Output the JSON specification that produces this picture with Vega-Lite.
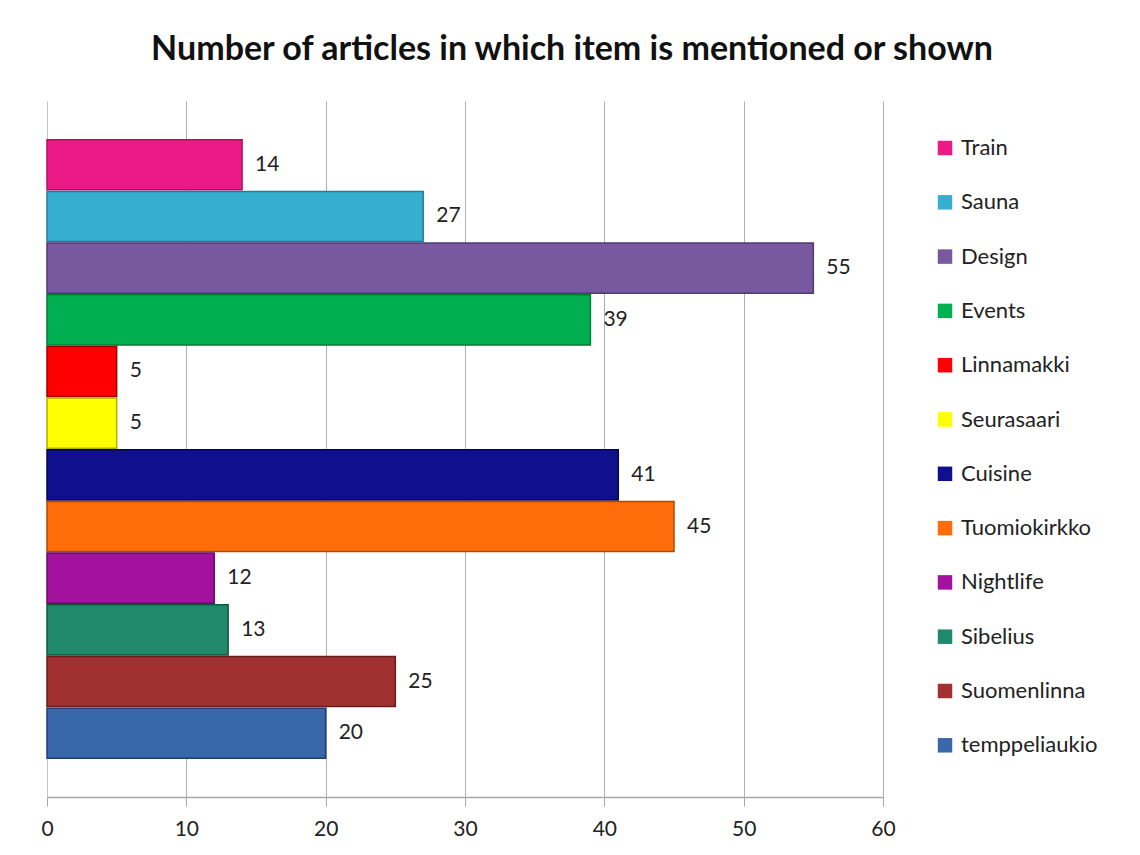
{
  "$schema": "https://vega.github.io/schema/vega-lite/v6.json",
  "autosize": {"type": "none"},
  "padding": {"left": 47, "top": 101, "right": 257, "bottom": 58},
  "width": 836,
  "height": 696,
  "background": "white",
  "title": {
    "text": "Number of articles in which item is mentioned or shown",
    "font": "Lato",
    "fontSize": 34,
    "fontWeight": "bold",
    "color": "#111111",
    "anchor": "middle",
    "frame": "group",
    "dx": 107,
    "baseline": "alphabetic",
    "offset": 7
  },
  "data": {
    "values": [
      {"item": "Train", "count": 14},
      {"item": "Sauna", "count": 27},
      {"item": "Design", "count": 55},
      {"item": "Events", "count": 39},
      {"item": "Linnamakki", "count": 5},
      {"item": "Seurasaari", "count": 5},
      {"item": "Cuisine", "count": 41},
      {"item": "Tuomiokirkko", "count": 45},
      {"item": "Nightlife", "count": 12},
      {"item": "Sibelius", "count": 13},
      {"item": "Suomenlinna", "count": 25},
      {"item": "temppeliaukio", "count": 20}
    ]
  },
  "encoding": {
    "y": {
      "field": "item",
      "type": "nominal",
      "sort": ["Train", "Sauna", "Design", "Events", "Linnamakki", "Seurasaari", "Cuisine", "Tuomiokirkko", "Nightlife", "Sibelius", "Suomenlinna", "temppeliaukio"],
      "scale": {"paddingInner": 0.03, "paddingOuter": 0.75},
      "axis": {"title": null, "labels": false, "ticks": false, "domain": true, "domainColor": "#c4c4c4", "domainWidth": 1}
    },
    "x": {
      "field": "count",
      "type": "quantitative",
      "scale": {"domain": [0, 60], "nice": false},
      "axis": {
        "title": null,
        "values": [0, 10, 20, 30, 40, 50, 60],
        "grid": true,
        "gridColor": "#b0b0b0",
        "gridWidth": 1,
        "domainColor": "#a8a8a8",
        "domainWidth": 1.5,
        "tickColor": "#a8a8a8",
        "tickSize": 9,
        "labelFlush": false,
        "labelFont": "Lato",
        "labelFontSize": 21,
        "labelColor": "#222222",
        "labelPadding": 12
      }
    }
  },
  "layer": [
    {
      "mark": {"type": "bar", "strokeWidth": 1.5},
      "encoding": {
        "color": {
          "field": "item",
          "type": "nominal",
          "sort": ["Train", "Sauna", "Design", "Events", "Linnamakki", "Seurasaari", "Cuisine", "Tuomiokirkko", "Nightlife", "Sibelius", "Suomenlinna", "temppeliaukio"],
          "scale": {
            "domain": ["Train", "Sauna", "Design", "Events", "Linnamakki", "Seurasaari", "Cuisine", "Tuomiokirkko", "Nightlife", "Sibelius", "Suomenlinna", "temppeliaukio"],
            "range": ["#ec1a86", "#35aecf", "#7859a0", "#00b050", "#ff0000", "#ffff00", "#10108f", "#fe6d0a", "#a3119f", "#21896b", "#a13030", "#3867aa"]
          },
          "legend": {
            "title": null,
            "orient": "none",
            "legendX": 887,
            "legendY": 36,
            "symbolType": "square",
            "symbolSize": 210,
            "symbolStrokeWidth": 0,
            "labelFont": "Lato",
            "labelFontSize": 22,
            "labelColor": "#222222",
            "labelOffset": 5,
            "rowPadding": 32.3
          }
        },
        "stroke": {
          "field": "item",
          "type": "nominal",
          "scale": {
            "domain": ["Train", "Sauna", "Design", "Events", "Linnamakki", "Seurasaari", "Cuisine", "Tuomiokirkko", "Nightlife", "Sibelius", "Suomenlinna", "temppeliaukio"],
            "range": ["#b0105f", "#1f7f99", "#4f3a72", "#007a36", "#a00000", "#b0b000", "#05054f", "#b04a00", "#6a0868", "#0f5a43", "#6a1c1c", "#1f3f70"]
          },
          "legend": null
        }
      }
    },
    {
      "mark": {"type": "text", "align": "left", "baseline": "middle", "dx": 13, "font": "Lato", "fontSize": 21, "color": "#222222"},
      "encoding": {
        "text": {"field": "count", "type": "quantitative"}
      }
    }
  ],
  "config": {
    "view": {"stroke": null}
  }
}
